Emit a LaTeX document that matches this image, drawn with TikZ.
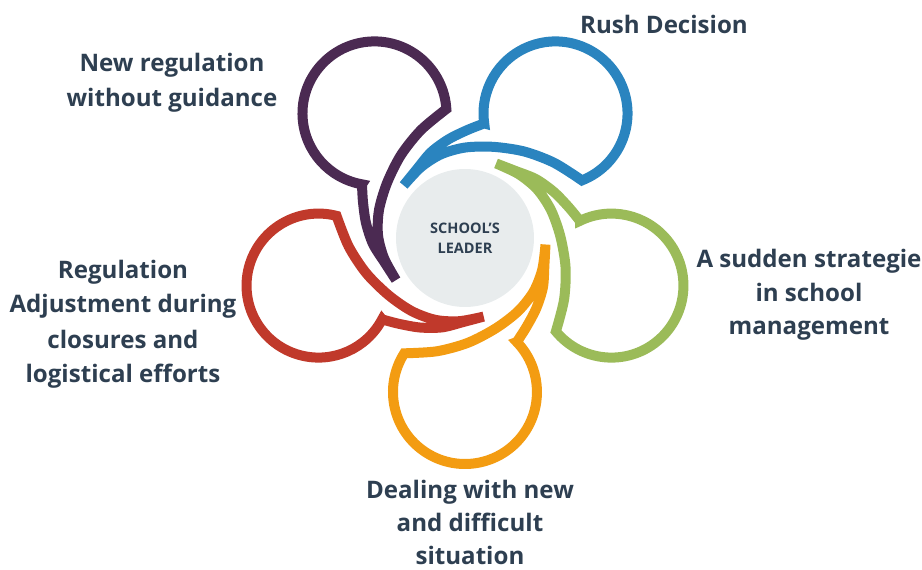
\documentclass[tikz,border=0pt]{standalone}
\usepackage{fontspec}
\setmainfont{Open Sans}
\definecolor{cpurple}{HTML}{4B2A52}
\definecolor{cblue}{HTML}{2A84BF}
\definecolor{cgreen}{HTML}{9BBB59}
\definecolor{corange}{HTML}{F39C12}
\definecolor{cred}{HTML}{C0392B}
\definecolor{ccenter}{HTML}{E8ECED}
\definecolor{ctext}{HTML}{2E3F51}
\tikzset{
  petal/.style={line width=10pt, line join=miter, miter limit=20},
  label/.style={font=\bfseries\fontsize{24.1}{35}\selectfont, text=ctext, align=center, inner sep=0pt, anchor=base},
  hub/.style={circle, fill=ccenter, minimum size=138pt, inner sep=0pt, font=\bfseries\fontsize{14.5}{20}\selectfont, text=ctext, align=center}
}
\begin{document}
\begin{tikzpicture}[x=1pt,y=1pt]
\useasboundingbox (-465,-332) rectangle (457,238);
\node[hub] (hub) at (0,0) {SCHOOL’S\\LEADER};
\foreach \ang/\col in {0/cpurple,-72/cblue,-144/cgreen,-216/corange,-288/cred}{
  \draw[petal, draw=\col, rotate=\ang]
    (-18.65,128.99) arc[start angle=3.5, end angle=260, radius=72]
    -- plot[smooth] coordinates {(-103.02,53.68) (-102,36) (-99,15) (-92,-6) (-80,-25) (-69,-42)}
    -- plot[smooth] coordinates {(-69,-42) (-81,-20) (-87,3) (-86,28) (-78,55) (-64,83) (-44,108) (-18.65,128.99)}
    -- cycle;
}
\node[label] (l1) at (199,204) {Rush Decision};
\node[label] (l2) at (-293,131) {New regulation\\without guidance};
\node[label, font=\bfseries\fontsize{24.1}{34}\selectfont] (l3) at (344,-97) {A sudden strategie\\in school\\management};
\node[label] (l4) at (-342,-145) {Regulation\\Adjustment during\\closures and\\logistical efforts};
\node[label, font=\bfseries\fontsize{24.1}{33}\selectfont] (l5) at (5,-326) {Dealing with new\\and difficult\\situation};
\end{tikzpicture}
\end{document}
